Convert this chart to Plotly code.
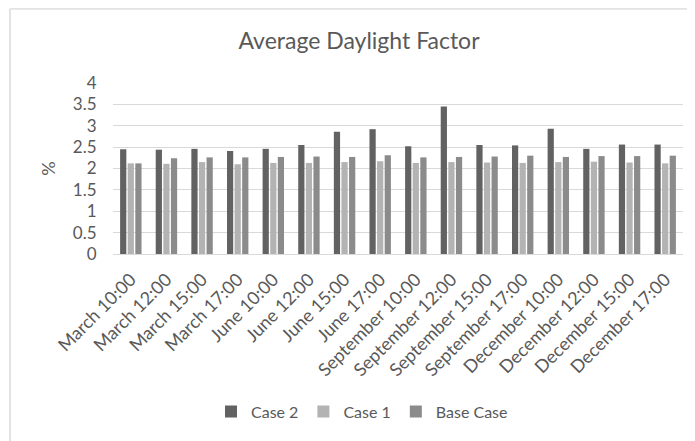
import plotly.graph_objects as go

categories = [
    "March 10:00", "March 12:00", "March 15:00", "March 17:00",
    "June 10:00", "June 12:00", "June 15:00", "June 17:00",
    "September 10:00", "September 12:00", "September 15:00", "September 17:00",
    "December 10:00", "December 12:00", "December 15:00", "December 17:00",
]
case2 = [2.45, 2.44, 2.46, 2.41, 2.46, 2.55, 2.86, 2.92,
         2.52, 3.45, 2.55, 2.54, 2.93, 2.46, 2.56, 2.56]
case1 = [2.12, 2.11, 2.15, 2.10, 2.13, 2.13, 2.15, 2.17,
         2.13, 2.15, 2.14, 2.13, 2.15, 2.16, 2.14, 2.12]
base_case = [2.12, 2.24, 2.26, 2.26, 2.27, 2.28, 2.27, 2.31,
             2.26, 2.27, 2.28, 2.30, 2.27, 2.29, 2.29, 2.30]

FONT = "Lato"
TEXT = "#595959"

series = [
    ("Case 2", case2, "#626262"),
    ("Case 1", case1, "#b3b3b3"),
    ("Base Case", base_case, "#8b8b8b"),
]

fig = go.Figure()
for name, vals, color in series:
    fig.add_trace(go.Bar(x=categories, y=vals, name=name, marker_color=color,
                         marker_line_width=0))

# page has an 8px body margin, so figure coords = screen coords - 8
OFF = 8
FW, FH = 695 - OFF, 441 - OFF
L, R, T, B = 113 - OFF, 683 - OFF, 82.5 - OFF, 254 - OFF
W, H = R - L, B - T


def px(x):
    return (x - OFF - L) / W


def py(y):
    return (B - (y - OFF)) / H


fig.update_layout(
    width=FW, height=FH,
    margin=dict(l=L, r=FW - R, t=T, b=FH - B),
    paper_bgcolor="white", plot_bgcolor="white",
    font=dict(family=FONT, color=TEXT, size=16),
    title=dict(text="Average Daylight Factor", x=px(359), xref="paper",
               xanchor="center", y=1 - (41 - OFF) / FH, yanchor="middle",
               font=dict(size=23, color=TEXT, family=FONT)),
    barmode="group", bargap=0.36, bargroupgap=0.18,
    showlegend=True,
    legend=dict(orientation="h", x=px(362), xanchor="center",
                y=py(412), yanchor="middle", font=dict(size=16, color=TEXT),
                itemwidth=30),
    xaxis=dict(tickangle=-45, tickfont=dict(size=18, color=TEXT),
               showline=True, linecolor="#d9d9d9", linewidth=1,
               ticks="outside", ticklen=7, tickcolor="white", showgrid=False),
    yaxis=dict(range=[0, 4], dtick=0.5, showgrid=True, gridcolor="#d9d9d9",
               gridwidth=1, zeroline=False, tickfont=dict(size=17, color=TEXT),
               ticks="outside", ticklen=12, tickcolor="white",
               title=dict(text="%", font=dict(size=18, color=TEXT), standoff=12)),
    shapes=[
        dict(type="line", xref="paper", yref="paper", x0=px(10), x1=px(10),
             y0=py(8), y1=py(445), line=dict(color="#e3e3e3", width=2)),
        dict(type="line", xref="paper", yref="paper", x0=px(10), x1=px(700),
             y0=py(8), y1=py(8), line=dict(color="#e3e3e3", width=2)),
    ],
)

fig.write_html("out.html")
